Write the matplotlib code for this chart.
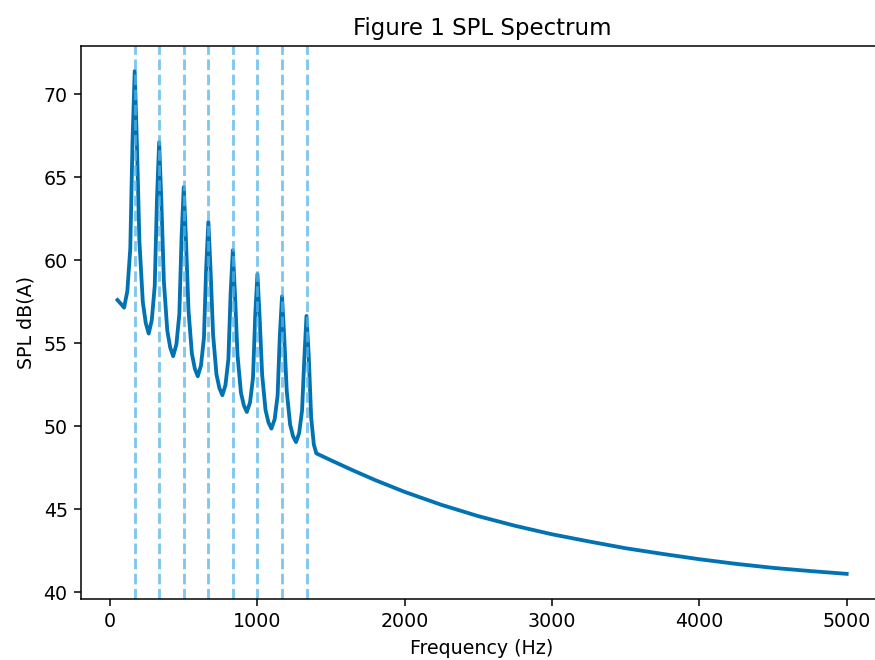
import matplotlib
matplotlib.use("Agg")
import matplotlib.pyplot as plt

# Harmonic (blade-passing) frequencies marked by dashed lines
harmonics_hz = [166.7, 333.3, 500.0, 666.7, 833.3, 1000.0, 1166.7, 1333.3]

# SPL spectrum
freq_hz = [
    50, 75, 95,
    117, 137, 152, 167, 182, 199, 222, 242, 262,
    283, 303, 318, 333, 348, 365, 388, 408, 428,
    450, 470, 485, 500, 515, 532, 555, 575, 595,
    617, 637, 652, 667, 682, 699, 722, 742, 762,
    783, 803, 818, 833, 848, 865, 888, 908, 928,
    950, 970, 985, 1000, 1015, 1032, 1055, 1075, 1095,
    1117, 1137, 1152, 1167, 1182, 1199, 1222, 1242, 1262,
    1283, 1303, 1318, 1333, 1348, 1365, 1383, 1400,
    1500, 1650, 1800, 2000, 2250, 2500, 2750, 3000, 3250,
    3500, 3750, 4000, 4250, 4500, 4750, 5000,
]
spl_dba = [
    57.60, 57.35, 57.14,
    58.14, 60.70, 67.11, 71.38, 66.96, 61.11, 57.48, 56.21, 55.58,
    56.39, 58.46, 63.64, 67.10, 63.49, 58.73, 55.77, 54.74, 54.22,
    54.93, 56.76, 61.35, 64.40, 61.21, 57.00, 54.38, 53.47, 53.01,
    53.66, 55.33, 59.51, 62.30, 59.38, 55.52, 53.12, 52.29, 51.87,
    52.48, 54.05, 57.98, 60.60, 57.87, 54.27, 52.03, 51.25, 50.86,
    51.44, 52.93, 56.67, 59.16, 56.56, 53.11, 50.98, 50.23, 49.86,
    50.42, 51.85, 55.44, 57.83, 55.37, 52.12, 50.10, 49.40, 49.05,
    49.58, 50.95, 54.00, 56.64, 54.32, 50.50, 48.90, 48.37,
    47.95, 47.34, 46.76, 46.05, 45.27, 44.59, 44.01, 43.50, 43.07,
    42.66, 42.32, 42.00, 41.72, 41.48, 41.29, 41.12,
]

W, H, DPI = 875, 660, 137
fig = plt.figure(figsize=(W / DPI + 0.001, H / DPI + 0.001), dpi=DPI)
ax = fig.add_axes([81 / W, 61 / H, 802 / W, 553 / H])

ax.plot(freq_hz, spl_dba, color="#0173b2", linewidth=2)
for f in harmonics_hz:
    ax.axvline(f, color="#56B4E9", linestyle="--", linewidth=1.5, alpha=0.75)

ax.spines["right"].set_visible(False)

ax.set_title("Figure 1 SPL Spectrum")
ax.set_xlabel("Frequency (Hz)")
ax.set_ylabel("SPL dB(A)")

fig.savefig("out.png", dpi=DPI)
